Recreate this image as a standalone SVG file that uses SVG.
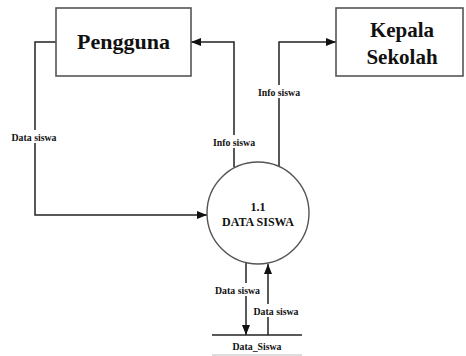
<svg xmlns="http://www.w3.org/2000/svg" width="466" height="356" viewBox="0 0 466 356">
<style>
.box{fill:#fff;stroke:#555;stroke-width:1.6}
.proc{fill:#fff;stroke:#555;stroke-width:1.4}
.ln{fill:none;stroke:#222;stroke-width:1.5}
text{font-family:'Liberation Serif','Times New Roman',Times,'DejaVu Serif',serif;font-weight:bold;fill:#111;text-anchor:middle}
.big{font-size:21px}
.mid{font-size:12px}
.lbl{font-size:9.8px}
.bg{fill:#fff}
</style>
<defs>
<marker id="ah" viewBox="0 0 10 8" refX="10" refY="4" markerWidth="10" markerHeight="8" markerUnits="userSpaceOnUse" orient="auto">
<path d="M0,0 L10,4 L0,8 z" fill="#111"/>
</marker>
</defs>
<rect width="466" height="356" fill="#fff"/>
<g id="connectors">
<path class="ln" d="M56,42 H35 V215 H207" marker-end="url(#ah)"/>
<path class="ln" d="M234,167 V42 H191" marker-end="url(#ah)"/>
<path class="ln" d="M279,166 V42 H336" marker-end="url(#ah)"/>
<path class="ln" d="M246,262 V335" marker-end="url(#ah)"/>
<path class="ln" d="M268,335 V264" marker-end="url(#ah)"/>
<rect class="bg" x="11" y="130" width="46" height="13"/>
<text class="lbl" x="34" y="140.5">Data siswa</text>
<rect class="bg" x="212" y="135" width="45" height="13"/>
<text class="lbl" x="234" y="145.5">Info siswa</text>
<rect class="bg" x="257" y="85" width="45" height="13"/>
<text class="lbl" x="279" y="95.5">Info siswa</text>
<rect class="bg" x="215" y="283" width="46" height="13"/>
<text class="lbl" x="237.5" y="293.5">Data siswa</text>
<rect class="bg" x="253" y="304" width="46" height="13"/>
<text class="lbl" x="276" y="314.5">Data siswa</text>
</g>
<g id="pengguna">
<rect class="box" x="56" y="8" width="135" height="68"/>
<text class="big" x="123.5" y="49" style="font-size:22px">Pengguna</text>
</g>
<g id="kepala-sekolah">
<rect class="box" x="336" y="8" width="127" height="68"/>
<text class="big" x="402" y="37">Kepala</text>
<text class="big" x="402" y="64">Sekolah</text>
</g>
<g id="proses-1-1">
<circle class="proc" cx="258" cy="213" r="51"/>
<text class="mid" x="258" y="211">1.1</text>
<text class="mid" x="258" y="226">DATA SISWA</text>
</g>
<g id="data-siswa-store">
<line x1="212" y1="335" x2="302" y2="335" stroke="#222" stroke-width="1.5"/>
<line x1="212" y1="355" x2="302" y2="355" stroke="#bbb" stroke-width="1"/>
<text class="lbl" x="257" y="349.5">Data_Siswa</text>
</g>
</svg>
